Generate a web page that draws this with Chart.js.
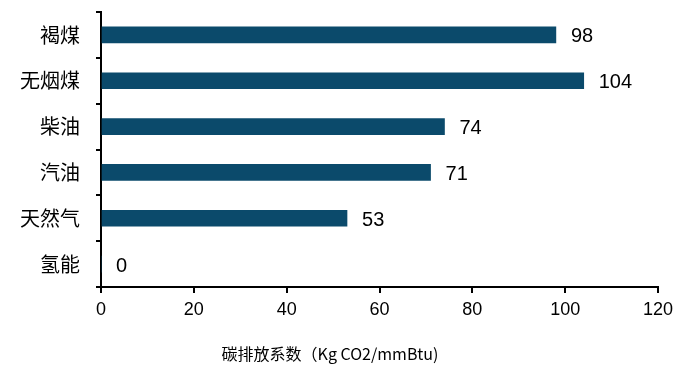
<!DOCTYPE html>
<html>
<head>
<meta charset="utf-8">
<script src="https://cdn.jsdelivr.net/npm/chart.js@4"></script>
<style>
  html, body { margin: 0; padding: 0; background: #fff; }
  #wrap { width: 690px; height: 367px; }
</style>
</head>
<body>
<div id="wrap"><canvas id="chart" width="690" height="367"></canvas></div>
<script>
// Carbon emission factors by fuel
const fuels = ['褐煤', '无烟煤', '柴油', '汽油', '天然气', '氢能'];
const emissions = [98, 104, 74, 71, 53, 0];
const xTicks = [0, 20, 40, 60, 80, 100, 120];
const axisTitle = '碳排放系数（Kg CO2/mmBtu)';

const barColor = '#0b4a6b';
const cjkFont = '"Noto Sans CJK SC", sans-serif';
const numFont = '"Liberation Sans", Arial, sans-serif';

// value labels at the end of each bar
const valueLabels = {
    id: 'valueLabels',
    afterDatasetsDraw(chart) {
        const ctx = chart.ctx;
        const meta = chart.getDatasetMeta(0);
        ctx.save();
        ctx.fillStyle = '#000';
        ctx.font = '20px ' + numFont;
        ctx.textAlign = 'left';
        ctx.textBaseline = 'middle';
        meta.data.forEach((bar, i) => {
            ctx.fillText(String(emissions[i]), bar.x + 15, bar.y + 2);
        });
        ctx.restore();
    }
};

// axis title below the x axis
const bottomTitle = {
    id: 'bottomTitle',
    afterDraw(chart) {
        const ctx = chart.ctx;
        ctx.save();
        ctx.fillStyle = '#000';
        ctx.font = '16px ' + cjkFont;
        ctx.textAlign = 'center';
        ctx.textBaseline = 'middle';
        ctx.fillText(axisTitle, 330, 354);
        ctx.restore();
    }
};

new Chart(document.getElementById('chart'), {
    type: 'bar',
    data: {
        labels: fuels,
        datasets: [{
            data: emissions,
            backgroundColor: barColor,
            barThickness: 16
        }]
    },
    options: {
        indexAxis: 'y',
        responsive: false,
        animation: false,
        layout: { padding: { left: 0, right: 32, top: 12, bottom: 0 } },
        plugins: {
            legend: { display: false },
            tooltip: { enabled: false }
        },
        scales: {
            x: {
                min: 0,
                max: 120,
                afterBuildTicks(scale) {
                    scale.ticks = xTicks.map(v => ({ value: v }));
                },
                afterFit(scale) {
                    scale.height = 80;
                    scale.paddingLeft = 0;
                    scale.paddingRight = 0;
                },
                border: { color: '#000', width: 2 },
                grid: {
                    drawOnChartArea: false,
                    tickLength: 6,
                    color: '#000',
                    lineWidth: 2
                },
                ticks: {
                    color: '#000',
                    padding: 6,
                    maxRotation: 0,
                    font: { family: numFont, size: 18 }
                }
            },
            y: {
                afterFit(scale) {
                    scale.width = 101;
                    scale.paddingTop = 0;
                    scale.paddingBottom = 0;
                },
                border: { color: '#000', width: 2 },
                grid: {
                    offset: true,
                    drawOnChartArea: false,
                    tickLength: 5,
                    color: '#000',
                    lineWidth: 2
                },
                ticks: {
                    color: '#000',
                    padding: 16,
                    font: { family: cjkFont, size: 20 }
                }
            }
        }
    },
    plugins: [valueLabels, bottomTitle]
});
</script>
</body>
</html>
